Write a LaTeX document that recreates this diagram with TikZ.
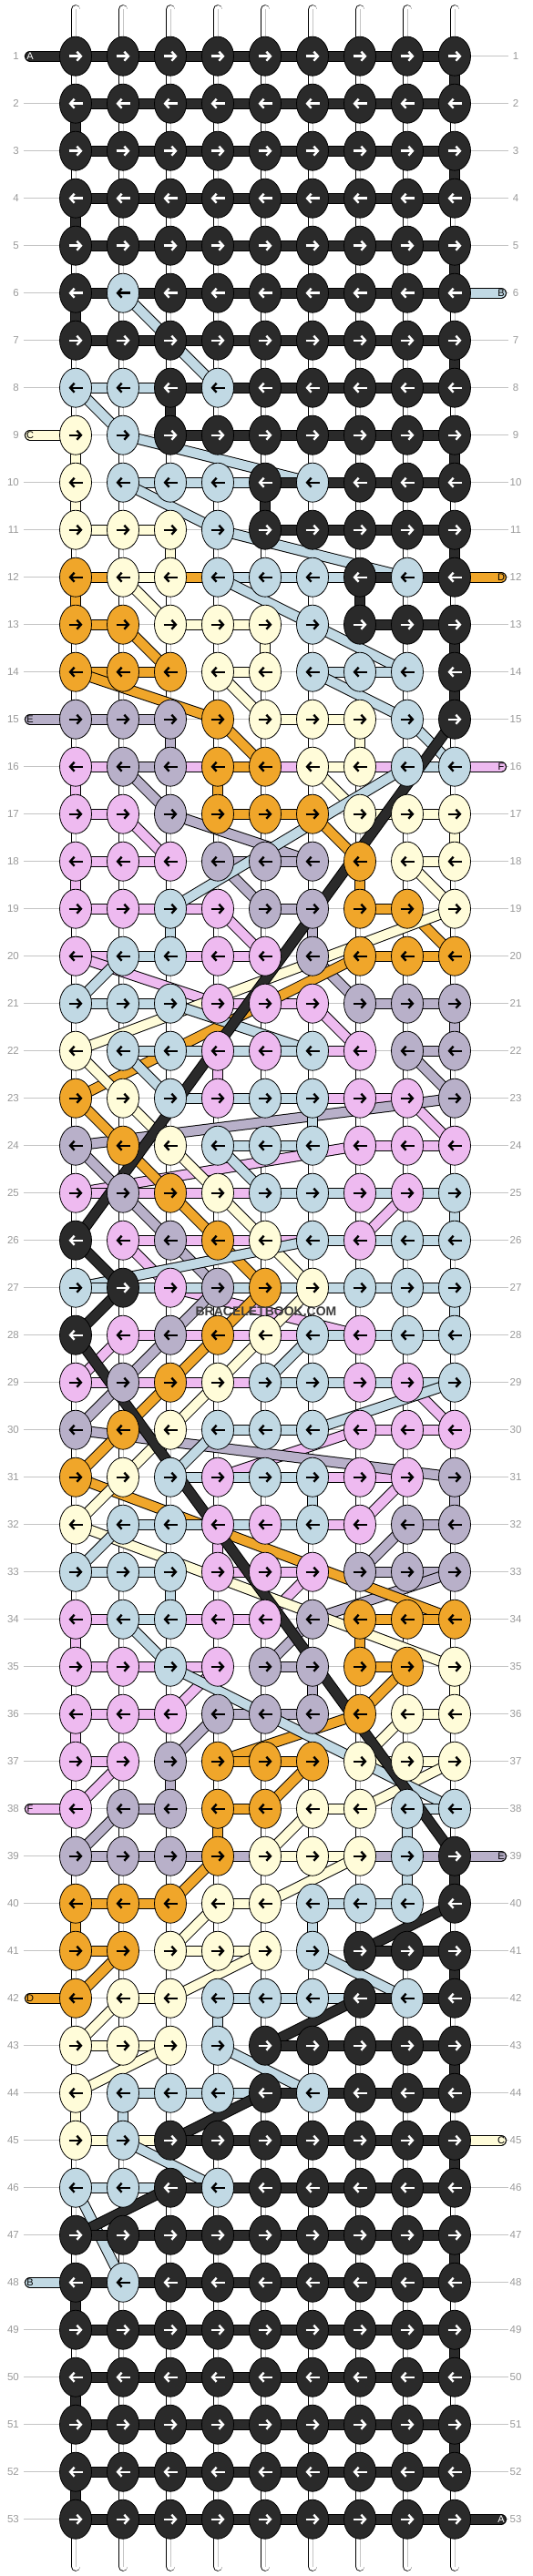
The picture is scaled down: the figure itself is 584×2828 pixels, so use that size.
\documentclass[tikz,border=0pt]{standalone}
\usepackage{fontspec}
\setmainfont{Liberation Sans}
\usepackage{xcolor}
\usetikzlibrary{shapes.geometric,arrows.meta}

\definecolor{strA}{HTML}{2A2A2A}
\definecolor{strB}{HTML}{C1D9E4}
\definecolor{strC}{HTML}{FFFCD9}
\definecolor{strD}{HTML}{F0A62A}
\definecolor{strE}{HTML}{B8B0C9}
\definecolor{strF}{HTML}{EEBAF0}
\definecolor{guidegray}{HTML}{C4C4C4}
\definecolor{labelgray}{HTML}{999999}
\definecolor{markgray}{HTML}{3C3C3C}

\pgfdeclarelayer{back}
\pgfsetlayers{back,main}

% nine knot colours of one row -> kc-<row>-<col>
\newcommand*\storerow[9]{%
  \expandafter\xdef\csname kc-\row-1\endcsname{#1}%
  \expandafter\xdef\csname kc-\row-2\endcsname{#2}%
  \expandafter\xdef\csname kc-\row-3\endcsname{#3}%
  \expandafter\xdef\csname kc-\row-4\endcsname{#4}%
  \expandafter\xdef\csname kc-\row-5\endcsname{#5}%
  \expandafter\xdef\csname kc-\row-6\endcsname{#6}%
  \expandafter\xdef\csname kc-\row-7\endcsname{#7}%
  \expandafter\xdef\csname kc-\row-8\endcsname{#8}%
  \expandafter\xdef\csname kc-\row-9\endcsname{#9}}

\begin{document}
\begin{tikzpicture}[x=1pt, y=-1pt,
    knot/.style={ellipse, draw=black, line width=0.8pt, minimum width=35pt, minimum height=43pt, inner sep=0pt},
    knotarrow/.style={line width=2.4pt, -{Straight Barb[length=4.5pt,width=10pt]}},
    band/.style={draw=black, line width=1pt, double distance=10pt},
    basestring/.style={draw=black, line width=0.8pt, double=white, double distance=9pt, line cap=round},
    guide/.style={draw=guidegray, line width=1pt},
    rowlabel/.style={font=\fontsize{11.5}{12}\selectfont, text=labelgray, inner sep=0pt},
    tabletter/.style={font=\fontsize{11}{12}\selectfont, inner sep=0pt},
    watermark/.style={font=\bfseries\fontsize{14}{14}\selectfont, text=markgray, inner sep=0pt}]
  \useasboundingbox (0,0) rectangle (584,2828);
  \def\letterA{A}

  % Knot colours, one row per line (left to right)
  \foreach \row/\s in {
     1/AAAAAAAAA,  2/AAAAAAAAA,  3/AAAAAAAAA,  4/AAAAAAAAA,  5/AAAAAAAAA,
     6/ABAAAAAAA,  7/AAAAAAAAA,  8/BBABAAAAA,  9/CBAAAAAAA, 10/CBBBABAAA,
    11/CCCBAAAAA, 12/DCCBBBABA, 13/DDCCCBAAA, 14/DDDCCBBBA, 15/EEEDCCCBA,
    16/FEEDDCCBB, 17/FFEDDDCCC, 18/FFFEEEDCC, 19/FFBFEEDDC, 20/FBBFFEDDD,
    21/BBBFFFEEE, 22/CBBFFBFEE, 23/DCBFBBFFE, 24/EDCBBBFFF, 25/FEDCBBFFB,
    26/AFEDCBFBB, 27/BAFEDCBBB, 28/AFEDCBFBB, 29/FEDCBBFFB, 30/EDCBBBFFF,
    31/DCBFBBFFE, 32/CBBFFBFEE, 33/BBBFFFEEE, 34/FBBFFEDDD, 35/FFBFEEDDC,
    36/FFFEEEDCC, 37/FFEDDDCCC, 38/FEEDDCCBB, 39/EEEDCCCBA, 40/DDDCCBBBA,
    41/DDCCCBAAA, 42/DCCBBBABA, 43/CCCBAAAAA, 44/CBBBABAAA, 45/CBAAAAAAA,
    46/BBABAAAAA, 47/AAAAAAAAA, 48/ABAAAAAAA, 49/AAAAAAAAA, 50/AAAAAAAAA,
    51/AAAAAAAAA, 52/AAAAAAAAA, 53/AAAAAAAAA}
    {\edef\rowtmp{\s}\expandafter\storerow\rowtmp}

  % Knots: odd rows go right, even rows go left
  \foreach \row in {1,...,53}{
    \foreach \col in {1,...,9}{
      \edef\cur{\csname kc-\row-\col\endcsname}
      \pgfmathsetmacro\kx{31+52*\col}
      \pgfmathsetmacro\ky{9.7+52*\row}
      \node[knot, fill=str\cur] (k-\row-\col) at (\kx,\ky) {};
      \ifx\cur\letterA \def\ac{white}\else\def\ac{black}\fi
      \ifodd\row
        \draw[knotarrow, \ac] (\kx-7.5,\ky) -- (\kx+7.5,\ky);
      \else
        \draw[knotarrow, \ac] (\kx+7.5,\ky) -- (\kx-7.5,\ky);
      \fi
    }
  }

  % Row numbers
  \foreach \row in {1,...,53}{
    \node[rowlabel, anchor=east] (num-l-\row) at (21,{9.7+52*\row}) {\row};
    \node[rowlabel] (num-r-\row) at (566,{9.7+52*\row}) {\row};
  }

  \node[watermark] (mark) at (292,1440) {BRACELETBOOK.COM};

  \begin{pgfonlayer}{back}
    % Base strings
    \foreach \col in {1,...,9}{
      \coordinate (top-\col) at ({31+52*\col},10.5);
      \coordinate (bot-\col) at ({31+52*\col},2817.5);
      \draw[basestring] (top-\col) -- (bot-\col);
      \draw[guidegray, line width=0.8pt] (top-\col) -- (bot-\col);
    }

    % Row guides
    \foreach \row in {1,...,53}
      \draw[guide] (26,{9.7+52*\row}) -- (558,{9.7+52*\row});

    % Knotting strings, followed knot to knot; A last so it lies on top
    \foreach \strand in {F,E,D,C,B,A}{
      \edef\curL{\strand}
      \ifx\curL\letterA \def\tabcol{white}\else\def\tabcol{black}\fi
      \global\let\lastknot\empty
      \foreach \row in {1,...,53}{
        \foreach \pos in {1,...,9}{
          \ifodd\row \edef\col{\pos}\else\pgfmathtruncatemacro\col{10-\pos}\fi
          \edef\cur{\csname kc-\row-\col\endcsname}
          \ifx\cur\curL
            \ifx\lastknot\empty
              % comes in on the side where the row starts
              \ifodd\row \def\tx{33}\else\def\tx{550}\fi
              \coordinate (tab-\curL-in) at (\tx,{9.7+52*\row});
              \draw[band, double=str\curL, line cap=round] (tab-\curL-in) -- (k-\row-\col.center);
              \node[tabletter, text=\tabcol] (tabtxt-\curL-in) at (tab-\curL-in) {\curL};
            \else
              \draw[band, double=str\curL] (\lastknot.center) -- (k-\row-\col.center);
            \fi
            \xdef\lastknot{k-\row-\col}
            \xdef\lastrow{\row}
          \fi
        }
      }
      % leaves on the side where its last row ends
      \ifodd\lastrow \def\tx{550}\else\def\tx{33}\fi
      \coordinate (tab-\curL-out) at (\tx,{9.7+52*\lastrow});
      \draw[band, double=str\curL, line cap=round] (\lastknot.center) -- (tab-\curL-out);
      \node[tabletter, text=\tabcol] (tabtxt-\curL-out) at (tab-\curL-out) {\curL};
    }
  \end{pgfonlayer}
\end{tikzpicture}
\end{document}
